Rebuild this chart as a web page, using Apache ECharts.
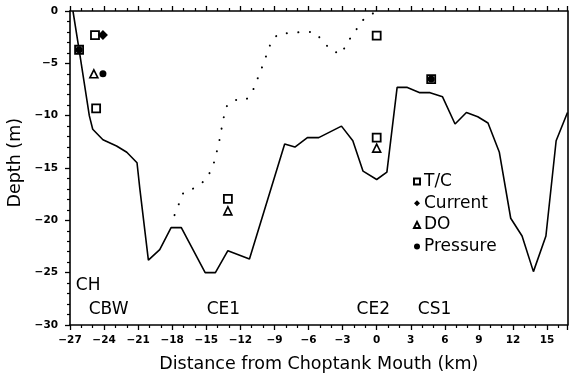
<!DOCTYPE html>
<html>
<head>
<meta charset="utf-8">
<script src="https://cdn.jsdelivr.net/npm/echarts@6/dist/echarts.min.js"></script>
<style>
html,body{margin:0;padding:0;background:#fff;}
#chart{width:569px;height:378px;}
</style>
</head>
<body>
<div id="chart"></div>
<script>
// Bottom profile: [distance km, depth m]
var bottomProfile = [
  [-26.74, 0], [-26.2, -3.7], [-25.3, -10], [-25.0, -11.3], [-24.1, -12.3], [-22.9, -12.9],
  [-22.0, -13.5], [-21.1, -14.5], [-20.85, -17], [-20.1, -23.8], [-19.1, -22.8], [-18.1, -20.7],
  [-17.2, -20.7], [-15.1, -25], [-14.2, -25], [-13.1, -22.9], [-11.2, -23.7], [-8.1, -12.7],
  [-7.2, -13.0], [-6.1, -12.1], [-5.1, -12.1], [-3.1, -11.0], [-2.1, -12.4], [-1.2, -15.3],
  [0, -16.1], [0.9, -15.4], [1.8, -7.3], [2.7, -7.3], [3.8, -7.8], [4.7, -7.8], [5.8, -8.2],
  [6.9, -10.8], [7.9, -9.7], [8.9, -10.1], [9.8, -10.7], [10.8, -13.5], [11.8, -19.8],
  [12.8, -21.5], [13.8, -24.9], [14.9, -21.5], [15.8, -12.4], [16.8, -9.7]
];
// Dotted curve
var dottedCurve = [
  [-17.8, -19.5], [-17.0, -17.3], [-16.0, -16.9], [-15.0, -16.1], [-14.4, -14.8], [-13.9, -12.7],
  [-13.5, -10.3], [-13.2, -9.1], [-12.6, -8.5], [-11.5, -8.5], [-10.9, -7.6], [-10.1, -5.4],
  [-9.3, -3.0], [-8.7, -2.2], [-6.5, -2.0], [-5.5, -2.0], [-4.7, -2.9], [-4.0, -3.8], [-3.1, -4.1],
  [-2.6, -3.0], [-1.9, -2.0], [-1.4, -1.0], [-0.45, -0.35], [-0.1, 0]
];
var tcPoints = [[-26.2, -3.7], [-24.8, -2.3], [-24.7, -9.3], [-13.1, -17.95], [0, -2.35], [0, -12.1], [4.8, -6.5]];
var currentPoints = [[-24.1, -2.3]];
var doPoints = [[-24.9, -6.0], [-13.1, -19.1], [0, -13.1]];
var pressurePoints = [[-24.1, -6.0], [-26.2, -3.7], [4.8, -6.5]];
var stationNames = ['CH', 'CBW', 'CE1', 'CE2', 'CS1'];
var stationDist = [-25.4, -23.6, -13.5, -0.3, 5.1];
var stationDepth = [-26.2, -28.5, -28.5, -28.5, -28.5];
var xTicks = { min: -27, max: 16.8, interval: 3 };
var yTicks = { min: -30, max: 0, interval: 5 };

var FONT = 'DejaVu Sans';
function fmt(v) { return String(v).replace('-', '\u2212'); }

var chart = echarts.init(document.getElementById('chart'), null, { renderer: 'canvas' });
var axisLine = { show: true, onZero: false, lineStyle: { color: '#000', width: 1.6 } };
var tickLabel = { color: '#000', fontFamily: FONT, fontWeight: 'bold', fontSize: 10.5, formatter: fmt };

var stationData = stationNames.map(function (n, i) { return { name: n, value: [stationDist[i], stationDepth[i]] }; });

chart.setOption({
  animation: false,
  backgroundColor: '#fff',
  grid: { left: 70, right: 1.5, top: 11, bottom: 51.3, containLabel: false },
  legend: {
    data: ['T/C', 'Current', 'DO', 'Pressure'],
    orient: 'vertical', left: 413, top: 173, padding: 0,
    itemWidth: 6, itemHeight: 6, itemGap: 4.7,
    textStyle: { fontFamily: FONT, fontSize: 17, lineHeight: 17, color: '#000', padding: [0, 0, 0, -1] }
  },
  xAxis: [{
    type: 'value', position: 'bottom', min: xTicks.min, max: xTicks.max, interval: xTicks.interval,
    axisLine: axisLine,
    axisTick: { show: true, inside: false, length: 5, lineStyle: { color: '#000', width: 1.3 } },
    minorTick: { show: true, splitNumber: 3, length: 3, lineStyle: { color: '#000', width: 1.2 } },
    axisLabel: Object.assign({ margin: 10, showMaxLabel: false }, tickLabel),
    splitLine: { show: false },
    name: 'Distance from Choptank Mouth (km)', nameLocation: 'middle', nameGap: 30,
    nameTextStyle: { fontFamily: FONT, fontSize: 17.5, color: '#000' }
  }, {
    type: 'value', position: 'top', min: xTicks.min, max: xTicks.max, interval: xTicks.interval,
    axisLine: axisLine,
    axisTick: { show: true, inside: false, length: 5, lineStyle: { color: '#000', width: 1.3 } },
    minorTick: { show: true, splitNumber: 3, length: 3, lineStyle: { color: '#000', width: 1.2 } },
    axisLabel: { show: false }, splitLine: { show: false }
  }],
  yAxis: [{
    type: 'value', position: 'left', min: yTicks.min, max: yTicks.max, interval: yTicks.interval,
    axisLine: axisLine,
    axisTick: { show: true, inside: false, length: 5, lineStyle: { color: '#000', width: 1.3 } },
    minorTick: { show: true, splitNumber: 5, length: 3, lineStyle: { color: '#000', width: 1.2 } },
    axisLabel: Object.assign({ margin: 12 }, tickLabel),
    splitLine: { show: false }
  }, {
    type: 'value', position: 'right', min: yTicks.min, max: yTicks.max, interval: yTicks.interval,
    axisLine: axisLine, axisTick: { show: false }, axisLabel: { show: false }, splitLine: { show: false }
  }],
  graphic: [{
    type: 'text', left: 6, top: 118, rotation: Math.PI / 2,
    style: { text: 'Depth (m)', fontFamily: FONT, fontSize: 17.5, fill: '#000' }
  }],
  series: [
    { type: 'line', name: 'bottom', data: bottomProfile, showSymbol: false, symbol: 'none',
      lineStyle: { color: '#000', width: 1.6 }, z: 2 },
    { type: 'line', name: 'dotted', data: dottedCurve, showSymbol: false, symbol: 'none',
      lineStyle: { color: '#000', width: 2, type: [0.1, 11.5], cap: 'round' }, z: 2 },
    { type: 'scatter', name: 'T/C', data: tcPoints, symbol: 'rect', symbolSize: 8,
      itemStyle: { color: '#fff', borderColor: '#000', borderWidth: 1.8, opacity: 1 }, z: 3 },
    { type: 'scatter', name: 'Current', data: currentPoints, symbol: 'diamond', symbolSize: 10,
      itemStyle: { color: '#000', opacity: 1 }, z: 3 },
    { type: 'scatter', name: 'DO', data: doPoints, symbol: 'triangle', symbolSize: 8,
      itemStyle: { color: '#fff', borderColor: '#000', borderWidth: 1.6, opacity: 1 }, z: 3 },
    { type: 'scatter', name: 'Pressure', data: pressurePoints, symbol: 'circle', symbolSize: 7,
      itemStyle: { color: '#000', opacity: 1 }, z: 4 },
    { type: 'scatter', name: 'stations', data: stationData, symbolSize: 0, silent: true,
      itemStyle: { opacity: 1, color: '#000' },
      label: { show: true, position: 'inside', formatter: '{b}', fontFamily: FONT, fontSize: 17,
        color: '#000', opacity: 1, textBorderWidth: 0 },
      z: 5 }
  ]
});
</script>
</body>
</html>
